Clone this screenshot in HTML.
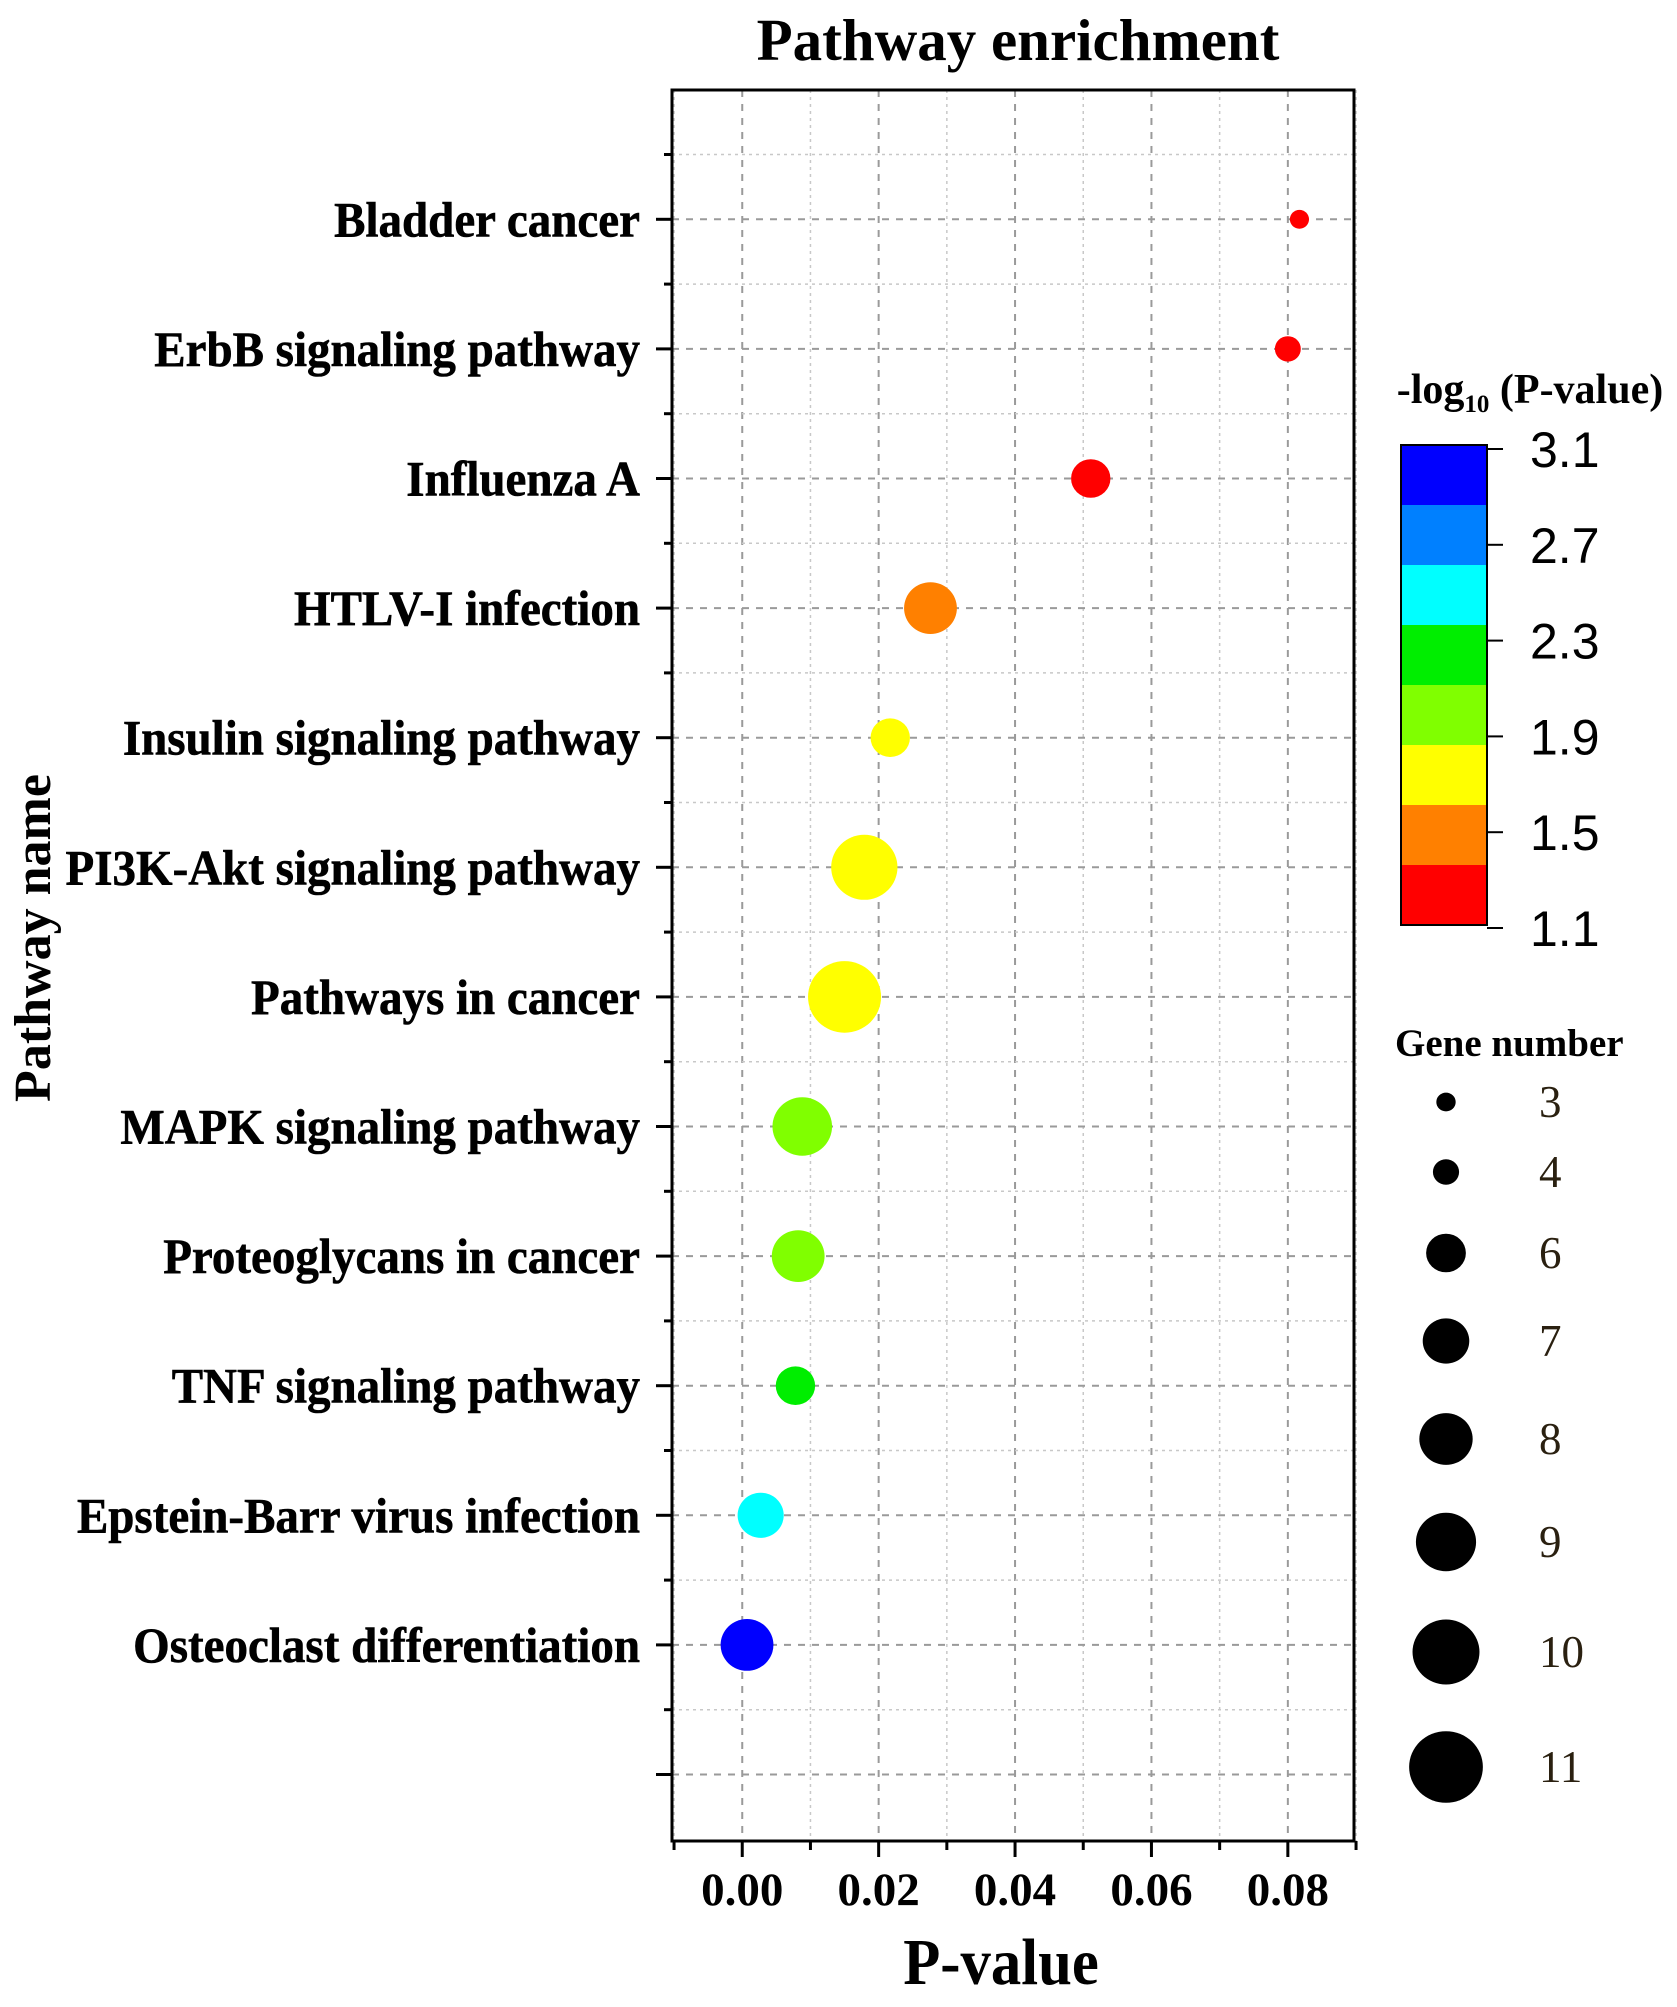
<!DOCTYPE html>
<html><head><meta charset="utf-8"><style>
html,body{margin:0;padding:0;background:#fff;}
svg{display:block;}
text{font-family:"Liberation Serif",serif;}
</style></head><body>
<svg id="chart" width="1677" height="2007" viewBox="0 0 1677 2007" xmlns="http://www.w3.org/2000/svg">
<text x="1018" y="60" text-anchor="middle" font-size="59" font-weight="bold">Pathway enrichment</text>
<g id="grid"></g>
<g id="axes"></g>
<g id="bubbles"></g>
<text transform="translate(50,938) rotate(-90)" text-anchor="middle" font-size="52" font-weight="bold">Pathway name</text>
<text transform="translate(1001,1984) scale(0.92,1)" text-anchor="middle" font-size="66" font-weight="bold">P-value</text>
<g id="colorbar"></g>
<g id="sizelegend"></g>
</svg>
<script>
const categories = ["Bladder cancer","ErbB signaling pathway","Influenza A","HTLV-I infection","Insulin signaling pathway","PI3K-Akt signaling pathway","Pathways in cancer","MAPK signaling pathway","Proteoglycans in cancer","TNF signaling pathway","Epstein-Barr virus infection","Osteoclast differentiation"];
const pValues = [0.0817,0.0800,0.0511,0.0276,0.0217,0.0179,0.0150,0.0088,0.0082,0.0078,0.0027,0.0007];
const logP = [1.09,1.10,1.29,1.56,1.66,1.75,1.82,2.05,2.08,2.2,2.5,3.05];
const geneCounts = [3,4,6,8,6,10,11,9,8,6,7,8];
const xTicks = ["0.00","0.02","0.04","0.06","0.08"];
const cbTicks = ["3.1","2.7","2.3","1.9","1.5","1.1"];
const cbColors = ["#0000ff","#0080ff","#00ffff","#00ee00","#80ff00","#ffff00","#ff8000","#ff0000"];
const legendGenes = [3,4,6,7,8,9,10,11];

const NS="http://www.w3.org/2000/svg";
function mk(tag,attrs,parent){const e=document.createElementNS(NS,tag);for(const k in attrs)e.setAttribute(k,attrs[k]);parent.appendChild(e);return e;}
const L=672,R=1354,T=90,B=1841;
const xMin=-0.0103,xMax=0.0897;
function xs(v){return L+(v-xMin)/(xMax-xMin)*(R-L);}
const y0=219.3,step=129.6;
function ys(i){return y0+i*step;}
function sizeD(g){return 6.6*g-1;}
const cMin=1.1,cMax=3.1;
function colorFor(v){let k=Math.floor((cMax-v)/(cMax-cMin)*8);k=Math.max(0,Math.min(7,k));return cbColors[k];}

const grid=document.getElementById('grid');
for(let v=-0.01;v<=0.0901;v+=0.01){
  const x=xs(v);const major=Math.round(v*100)%2===0;
  const ln=mk('line',{x1:x,y1:T,x2:x,y2:B,stroke:major?'#9a9a9a':'#c8c8c8','stroke-width':major?2:1.5,'stroke-dasharray':major?'7,7':'3,4'},grid);
  
  
}
for(let i=-0.5;i<=12.5;i+=0.5){
  const y=ys(i);if(y<=T+2||y>=B-2)continue;const major=Number.isInteger(i);
  const ln=mk('line',{x1:L,y1:y,x2:R,y2:y,stroke:major?'#9a9a9a':'#c8c8c8','stroke-width':major?2:1.5,'stroke-dasharray':major?'7,7':'3,4'},grid);
  
  
}

const axes=document.getElementById('axes');
mk('rect',{x:L,y:T,width:R-L,height:B-T,fill:'none',stroke:'#000','stroke-width':3},axes);
for(let v=-0.01;v<=0.0901;v+=0.01){
  const x=xs(v);const major=Math.round(v*100)%2===0;
  mk('line',{x1:x,y1:B,x2:x,y2:B+(major?16:9),stroke:'#000','stroke-width':3},axes);
}
xTicks.forEach((t,k)=>{
  const x=xs(k*0.02);
  const tx=mk('text',{transform:`translate(${x},1905)`,'text-anchor':'middle','font-size':47,'font-weight':'bold'},axes);
  tx.textContent=t;
  
  
});
for(let i=-0.5;i<=12.5;i+=0.5){
  const y=ys(i);if(y<=T+2||y>=B-2)continue;const major=Number.isInteger(i);
  mk('line',{x1:L,y1:y,x2:L-(major?16:8),y2:y,stroke:'#000','stroke-width':3},axes);
}
categories.forEach((c,i)=>{
  const tx=mk('text',{transform:`translate(640,${ys(i)+17}) scale(0.94,1)`,'text-anchor':'end','font-size':50,'font-weight':'bold',stroke:'#000','stroke-width':0.6},axes);
  tx.textContent=c;
  
  
});

const bub=document.getElementById('bubbles');
pValues.forEach((p,i)=>{
  const d=sizeD(geneCounts[i]);
  const e=mk('ellipse',{cx:xs(p),cy:ys(i),rx:d/2*1.02,ry:d/2,fill:colorFor(logP[i])},bub);
  
  
});

const cb=document.getElementById('colorbar');
const cbt=mk('text',{x:1530,y:403,'text-anchor':'middle','font-size':42,'font-weight':'bold'},cb);
cbt.innerHTML='-log<tspan font-size="25" dy="9">10</tspan><tspan dy="-9"> (P-value)</tspan>';


const cbTop=445,cbBot=925,cbL=1401,cbR=1487;
const bandH=(cbBot-cbTop)/cbColors.length;
cbColors.forEach((col,k)=>{
  const r=mk('rect',{x:cbL,y:cbTop+k*bandH,width:cbR-cbL,height:bandH+0.5,fill:col},cb);
  
  
});
mk('rect',{x:cbL,y:cbTop,width:cbR-cbL,height:cbBot-cbTop,fill:'none',stroke:'#000','stroke-width':2},cb);
const tickTop=449,tickBot=928;
cbTicks.forEach((t,k)=>{
  const y=tickTop+k*(tickBot-tickTop)/5;
  mk('line',{x1:cbR,y1:y,x2:cbR+16,y2:y,stroke:'#000','stroke-width':2},cb);
  const tx=mk('text',{x:1530,y:y+18,'font-size':50,style:'font-family:"Liberation Sans",sans-serif'},cb);
  tx.textContent=t;
  
  
});

const sl=document.getElementById('sizelegend');
const slt=mk('text',{x:1395,y:1056,'font-size':39,'font-weight':'bold'},sl);
slt.textContent='Gene number';


const legYs=[1102,1172,1253,1341,1439,1542,1652,1767];
legendGenes.forEach((g,k)=>{
  const d=sizeD(g);
  const e=mk('ellipse',{cx:1446,cy:legYs[k],rx:d/2*1.03,ry:d/2,fill:'#000'},sl);
  
  
  const tx=mk('text',{x:1539,y:legYs[k]+15,'font-size':45,fill:'#2a2010'},sl);
  tx.textContent=String(g);
  
  
});
</script>
</body></html>
